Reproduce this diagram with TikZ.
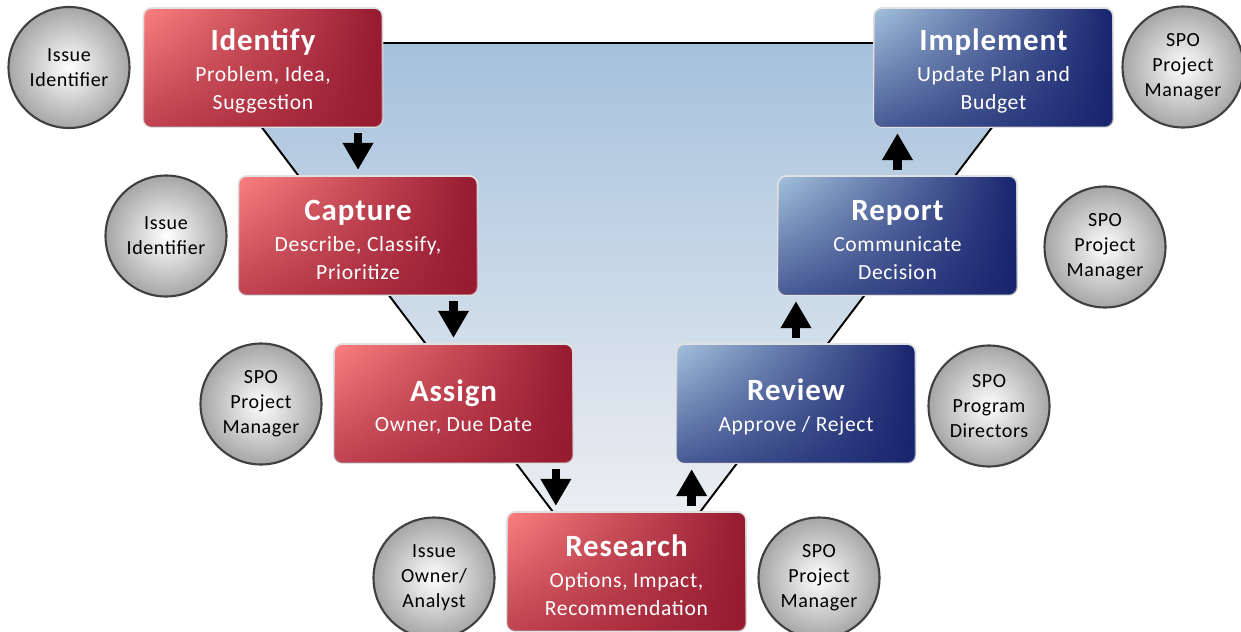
\documentclass[tikz,border=0pt]{standalone}
\usepackage{fontspec}
\setmainfont{Carlito}[LetterSpace=3]
\usetikzlibrary{arrows.meta,fadings}

\definecolor{redlight}{RGB}{252,128,128}
\definecolor{reddark}{RGB}{150,26,48}
\definecolor{bluelight}{RGB}{164,194,222}
\definecolor{bluedark}{RGB}{24,36,110}
\definecolor{bgtop}{RGB}{165,193,220}
\definecolor{bgbottom}{RGB}{236,238,242}
\definecolor{rim}{RGB}{225,225,225}
\definecolor{roleedge}{RGB}{64,64,64}
\definecolor{rolefill}{RGB}{166,166,166}

\newcommand{\stagetitle}[1]{{\fontsize{17.6}{19}\selectfont\bfseries\rule{0pt}{16.6pt}#1}}

\tikzset{
  stagebox/.style={rounded corners=0.16cm, draw=rim, line width=1pt, minimum width=4.78cm,
    minimum height=2.38cm, inner sep=0pt, text=white, align=center,
    font=\fontsize{12.3}{15.9}\selectfont},
  redbox/.style={stagebox, left color=redlight, right color=reddark,
    postaction={fill=reddark, path fading=north, fill opacity=0.6}},
  bluebox/.style={stagebox, left color=bluelight, right color=bluedark,
    postaction={fill=bluedark, path fading=north, fill opacity=0.65}},
  role/.style={circle, draw=roleedge, line width=1.2pt, inner color=white, outer color=rolefill,
    minimum size=2.42cm, inner sep=0pt, align=center, font=\fontsize{11.4}{14.2}\selectfont},
  flow/.style={-{Triangle[width=0.58cm,length=0.54cm]}, line width=0.17cm, shorten <=3pt, shorten >=3pt}
}

\begin{document}
\begin{tikzpicture}[x=0.02cm, y=-0.02cm, line join=round]
\useasboundingbox (0,0) rectangle (1241,632);
% funnel behind the stages
\shade[top color=bgtop, bottom color=bgbottom, draw=black, line width=1.1pt]
  (198,43) -- (1056,43) -- (700,512) -- (553,512) -- cycle;

% stages
\node[redbox] (identify) at (263,67.5) {\stagetitle{Identify}\\[1.5pt] Problem, Idea,\\ Suggestion};
\node[redbox] (capture) at (358,235.5) {\stagetitle{Capture}\\[1.5pt] Describe, Classify,\\ Prioritize};
\node[redbox] (assign) at (453.5,403.5) {\stagetitle{Assign}\\[1.5pt] Owner, Due Date};
\node[redbox] (research) at (626.5,571.5) {\stagetitle{Research}\\[1.5pt] Options, Impact,\\ Recommendation};
\node[bluebox] (review) at (796,403.5) {\stagetitle{Review}\\[1.5pt] Approve / Reject};
\node[bluebox] (report) at (897.5,235.5) {\stagetitle{Report}\\[1.5pt] Communicate\\ Decision};
\node[bluebox] (implement) at (993.5,67.5) {\stagetitle{Implement}\\[1.5pt] Update Plan and\\ Budget};

% who does it
\node[role] (identify-who) at (69,67.5) {Issue\\Identifier};
\node[role] (capture-who) at (166,236) {Issue\\Identifier};
\node[role] (assign-who) at (261,404) {SPO\\Project\\Manager};
\node[role] (research-who1) at (434,578) {Issue\\Owner/\\Analyst};
\node[role] (research-who2) at (819,578) {SPO\\Project\\Manager};
\node[role] (review-who) at (989,406) {SPO\\Program\\Directors};
\node[role] (report-who) at (1105,247) {SPO\\Project\\Manager};
\node[role] (implement-who) at (1183,67) {SPO\\Project\\Manager};

% flow between stages
\draw[flow] (identify.south -| capture.north) -- (capture.north);
\draw[flow] (capture.south -| assign.north) -- (assign.north);
\draw[flow] ([xshift=-0.36cm]assign.south east) -- ([xshift=-0.36cm]assign.south east |- research.north);
\draw[flow] ([xshift=0.32cm]review.south west |- research.north) -- ([xshift=0.32cm]review.south west);
\draw[flow] (review.north) -- (review.north |- report.south);
\draw[flow] (report.north) -- (report.north |- implement.south);
\end{tikzpicture}
\end{document}
